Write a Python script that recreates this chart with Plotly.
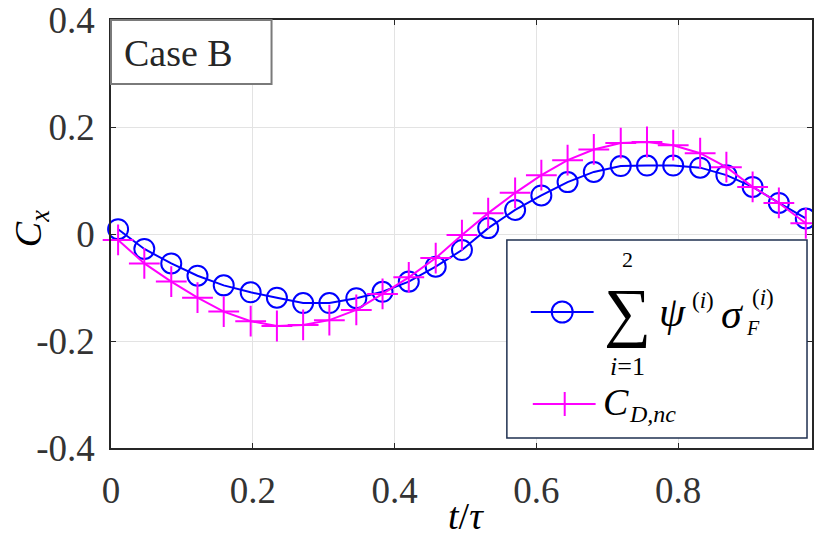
import plotly.graph_objects as go

# ---- data ----
t_values = [0.010, 0.047, 0.085, 0.122, 0.159, 0.197, 0.234, 0.271, 0.308, 0.346,
            0.383, 0.420, 0.458, 0.495, 0.532, 0.570, 0.607, 0.644, 0.681, 0.719,
            0.756, 0.793, 0.831, 0.868, 0.905, 0.942, 0.980]
psi_sigma_sum = [0.009, -0.028, -0.055, -0.078, -0.096, -0.109, -0.119, -0.129, -0.129, -0.120,
                 -0.108, -0.089, -0.061, -0.030, 0.011, 0.045, 0.072, 0.097, 0.116, 0.127,
                 0.128, 0.128, 0.124, 0.110, 0.088, 0.058, 0.029]
c_d_nc = [-0.011, -0.055, -0.089, -0.119, -0.145, -0.163, -0.172, -0.170, -0.161, -0.142,
          -0.112, -0.081, -0.045, -0.002, 0.039, 0.077, 0.110, 0.138, 0.158, 0.170,
          0.172, 0.166, 0.151, 0.125, 0.088, 0.058, 0.020]
x_ticks = [0, 0.2, 0.4, 0.6, 0.8]
x_tick_labels = ["0", "0.2", "0.4", "0.6", "0.8"]
y_ticks = [-0.4, -0.2, 0, 0.2, 0.4]
y_tick_labels = ["-0.4", "-0.2", "0", "0.2", "0.4"]

BLUE = "#0000ff"
MAGENTA = "#ff00ff"
AXC = "#262626"
SERIF = "Liberation Serif"
MATH = "Liberation Serif"

# plot-area geometry in pixels
W, H = 814, 542
L, R, T, B = 111, 814, 20, 448


def px(x):
    return (x - L) / (R - L)


def py(y):
    return (B - y) / (B - T)


fig = go.Figure()
fig.add_trace(go.Scatter(
    x=t_values, y=psi_sigma_sum, mode="lines+markers",
    line=dict(color=BLUE, width=2),
    marker=dict(symbol="circle-open", size=20, color=BLUE, line=dict(width=2, color=BLUE)),
    showlegend=False, cliponaxis=False))
fig.add_trace(go.Scatter(
    x=t_values, y=c_d_nc, mode="lines+markers",
    line=dict(color=MAGENTA, width=2),
    marker=dict(symbol="cross-thin-open", size=22, color=MAGENTA, line=dict(width=2, color=MAGENTA)),
    showlegend=False, cliponaxis=False))

axis_common = dict(
    showline=True, linecolor=AXC, linewidth=1.5, mirror="ticks",
    ticks="inside", ticklen=5, tickcolor=AXC, tickwidth=1,
    showgrid=True, gridcolor="#e3e3e3", gridwidth=1, zeroline=False,
    tickfont=dict(family=SERIF, size=37, color="#333333"),
    ticklabeloverflow="allow",
)
fig.update_xaxes(range=[0, (R - L) / 711.0], tickvals=x_ticks, ticktext=x_tick_labels,
                 ticklabelstandoff=9, **axis_common)
fig.update_yaxes(range=[-0.4, 0.4], tickvals=y_ticks, ticktext=y_tick_labels,
                 ticklabelstandoff=7, **axis_common)

shapes = []
annotations = []

# "Case B" box
shapes.append(dict(type="rect", xref="paper", yref="paper", x0=px(111), x1=px(272),
                   y0=py(84), y1=py(20), line=dict(color="#7a7a7a", width=2),
                   fillcolor="white", layer="above"))
annotations.append(dict(xref="paper", yref="paper", x=px(179), y=py(53), text="Case B",
                        showarrow=False, font=dict(family=SERIF, size=38, color=AXC),
                        xanchor="center", yanchor="middle"))

# legend box
shapes.append(dict(type="rect", xref="paper", yref="paper", x0=px(508), x1=px(809),
                   y0=py(438), y1=py(240), line=dict(color="#1f3050", width=1.5),
                   fillcolor="white", layer="above"))
# legend entry 1 symbol
shapes.append(dict(type="line", xref="paper", yref="paper", x0=px(532), x1=px(595),
                   y0=py(312), y1=py(312), line=dict(color=BLUE, width=2), layer="above"))
shapes.append(dict(type="circle", xref="paper", yref="paper", x0=px(553), x1=px(574),
                   y0=py(322.5), y1=py(301.5), line=dict(color=BLUE, width=2), layer="above"))
# legend entry 2 symbol
shapes.append(dict(type="line", xref="paper", yref="paper", x0=px(534), x1=px(597),
                   y0=py(404), y1=py(404), line=dict(color=MAGENTA, width=2), layer="above"))
shapes.append(dict(type="line", xref="paper", yref="paper", x0=px(566), x1=px(566),
                   y0=py(416), y1=py(392), line=dict(color=MAGENTA, width=2), layer="above"))


def ann(x, y, text, size, anchor="left", family=MATH):
    annotations.append(dict(xref="paper", yref="paper", x=px(x), y=py(y), text=text,
                            showarrow=False, font=dict(family=family, size=size, color="black"),
                            xanchor=anchor, yanchor="middle"))


ann(629, 312, "∑", 66, "center")
ann(629, 259, "2", 22, "center")
ann(629, 366, "<i>i</i>=1", 26, "center")
ann(659, 312, "<i>ψ</i>", 42)
ann(692, 300, "(<i>i</i>)", 23)
ann(721, 314, "<i>σ</i>", 42)
ann(746, 328, "<i>F</i>", 20)
ann(752, 297, "(<i>i</i>)", 23)
ann(602, 402, "<i>C</i>", 38)
ann(628, 414, "<i>D,nc</i>", 24)

# axis titles
ann(31, 229, "<i>C</i><sub><i>x</i></sub>", 38, "center")
annotations[-1]["textangle"] = -90
ann(467, 516, "<i>t</i>/<i>τ</i>", 38, "center")

fig.update_layout(
    width=W, height=H,
    margin=dict(l=L, r=W - R, t=T, b=H - B, pad=0),
    plot_bgcolor="white", paper_bgcolor="white",
    shapes=shapes, annotations=annotations,
    showlegend=False,
)

fig.write_html("out.html")
